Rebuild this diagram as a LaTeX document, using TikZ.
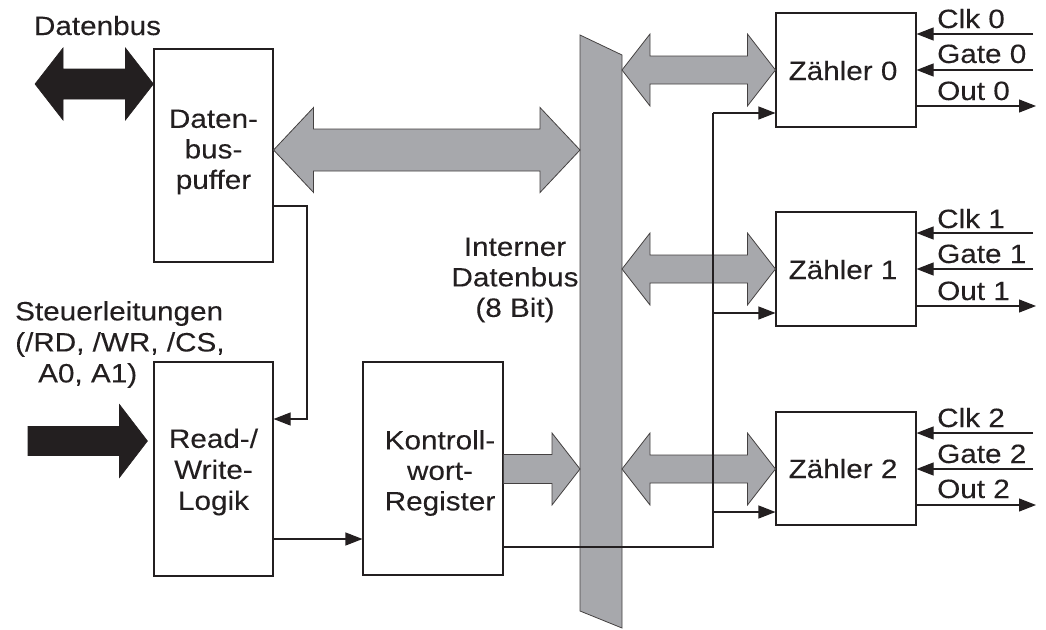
\documentclass[tikz,border=0pt]{standalone}
\usepackage{fontspec}
\setmainfont[FakeStretch=1.12,FakeBold=0.15]{Liberation Sans}
\usetikzlibrary{calc,arrows.meta}
\definecolor{ink}{RGB}{35,31,32}
\definecolor{busgray}{RGB}{167,168,172}
\tikzset{
  box/.style={draw=ink, line width=1.1pt, inner sep=0pt, minimum width=#1},
  txt/.style={inner sep=0pt, text=ink, align=center, font=\fontsize{26.5}{30.5}\selectfont},
  lbl/.style={inner sep=0pt, text=ink, anchor=base west, font=\fontsize{26.5}{30.5}\selectfont},
  sig/.style={draw=ink, line width=1.1pt, -{Triangle[length=17pt,width=13pt]}},
  wire/.style={draw=ink, line width=1.1pt},
  bigblack/.style={fill=ink, draw=ink, line width=0.6pt, line join=miter},
  biggray/.style={fill=busgray, draw=ink!85, line width=0.8pt, line join=miter},
}
\newcommand\dblarrow[6]{%
  \filldraw[#1] let \p1=#2, \p2=#3 in
    (\x1,\y1) -- (\x1+#6,\y1+#5) -- (\x1+#6,\y1+#4) -- (\x2-#6,\y1+#4) -- (\x2-#6,\y1+#5)
    -- (\x2,\y1) -- (\x2-#6,\y1-#5) -- (\x2-#6,\y1-#4) -- (\x1+#6,\y1-#4) -- (\x1+#6,\y1-#5) -- cycle;}
\newcommand\sglarrow[6]{%
  \filldraw[#1] let \p1=#2, \p2=#3 in
    (\x1,\y1+#4) -- (\x2-#6,\y1+#4) -- (\x2-#6,\y1+#5) -- (\x2,\y1)
    -- (\x2-#6,\y1-#5) -- (\x2-#6,\y1-#4) -- (\x1,\y1-#4) -- cycle;}
\begin{document}
\begin{tikzpicture}[x=1pt,y=-1pt]
\useasboundingbox (0,0) rectangle (1046,629);

% boxes
\node[box=119pt, minimum height=213pt] (buf) at (213.5,155.5) {};
\node[box=119pt, minimum height=214pt] (rw)  at (213.5,469) {};
\node[box=140pt, minimum height=213pt] (kw)  at (433,468.5) {};
\node[box=140pt, minimum height=114pt] (z0)  at (846,70) {};
\node[box=140pt, minimum height=114pt] (z1)  at (846,269) {};
\node[box=140pt, minimum height=113pt] (z2)  at (846,468.5) {};

% internal bus
\filldraw[biggray] (580,35) -- (622,55) -- (622,628) -- (580,611) -- cycle;
\coordinate (busL) at (580,0);
\coordinate (busR) at (622,0);

% texts
\node[txt, anchor=base] at (97.5,35) {Datenbus};
\node[txt] at (213.5,152) {Daten-\\bus-\\puffer};
\node[txt, align=left, anchor=north west, font=\fontsize{26.5}{31}\selectfont] at (15,301)
  {Steuerleitungen\\(/RD, /WR, /CS,\\\hspace*{23pt}A0, A1)};
\node[txt, font=\fontsize{26.5}{31}\selectfont] at (213.5,472) {Read-/\\Write-\\Logik};
\node[txt] at (440,473) {Kontroll-\\wort-\\Register};
\node[txt] at (515,280) {Interner\\Datenbus\\(8 Bit)};
\node[txt, anchor=base] at (843,80) {Zähler 0};
\node[txt, anchor=base] at (843,279) {Zähler 1};
\node[txt, anchor=base] at (843,478) {Zähler 2};
\node[lbl] at (937,28) {Clk 0};
\node[lbl] at (937,63) {Gate 0};
\node[lbl] at (937,100) {Out 0};
\node[lbl] at (937,228) {Clk 1};
\node[lbl] at (937,263) {Gate 1};
\node[lbl] at (937,300) {Out 1};
\node[lbl] at (937,427) {Clk 2};
\node[lbl] at (937,463) {Gate 2};
\node[lbl] at (937,498) {Out 2};

% big arrows
\coordinate (dbin) at (35,84);
\coordinate (stin) at (28,441);
\dblarrow{bigblack}{(dbin)}{(buf.west |- dbin)}{15pt}{36pt}{28pt}
\sglarrow{bigblack}{(stin)}{($(rw.west |- stin)+(-6pt,0)$)}{14.5pt}{36.5pt}{28pt}
\dblarrow{biggray}{(buf.east |- 0,150)}{(busL |- 0,150)}{21pt}{42.5pt}{40pt}
\sglarrow{biggray}{(kw.east |- 0,469)}{(busL |- 0,469)}{14.5pt}{36pt}{28pt}
\dblarrow{biggray}{(busR |- z0.west)}{(z0.west)}{14pt}{36pt}{28pt}
\dblarrow{biggray}{(busR |- z1.west)}{(z1.west)}{14pt}{36pt}{28pt}
\dblarrow{biggray}{(busR |- 0,469)}{(z2.west |- 0,469)}{14pt}{36pt}{28pt}

% control lines
\coordinate (c1) at (307,206);
\draw[sig] (buf.east |- c1) -- (c1) |- (rw.east |- 0,419);
\draw[sig] (rw.east |- 0,539) -- (kw.west |- 0,539);
\coordinate (v0) at (713,113);
\coordinate (v1) at (713,313);
\coordinate (v2) at (713,512);
\coordinate (vb) at (713,547);
\draw[wire] (kw.east |- vb) -- (vb) -- (v0);
\draw[sig] (v0) -- (z0.west |- v0);
\draw[sig] (v1) -- (z1.west |- v1);
\draw[sig] (v2) -- (z2.west |- v2);

% counter I/O
\foreach \z/\yc/\yg/\yo in {z0/34/70/106, z1/233/269/306, z2/433/469/505}{
  \coordinate (ck\z) at (1033,\yc);
  \coordinate (gt\z) at (1033,\yg);
  \coordinate (ot\z) at (1036,\yo);
  \draw[sig] (ck\z) -- (\z.east |- ck\z);
  \draw[sig] (gt\z) -- (\z.east |- gt\z);
  \draw[sig] (\z.east |- ot\z) -- (ot\z);
}
\end{tikzpicture}
\end{document}
